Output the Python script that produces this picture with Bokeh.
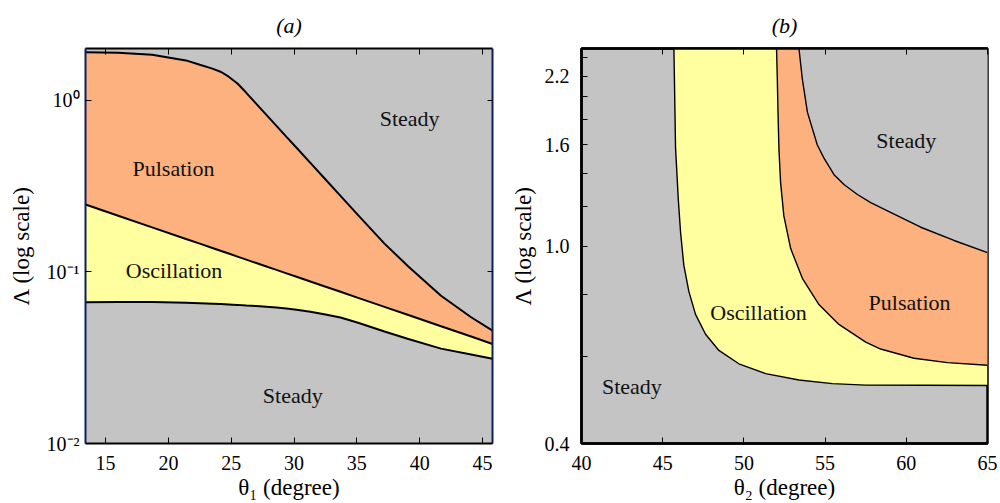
from bokeh.plotting import figure
from bokeh.layouts import row
from bokeh.models import (FixedTicker, LinearAxis, LogAxis, Range1d, Label,
                          PrintfTickFormatter)
from bokeh.embed import file_html
from bokeh.resources import INLINE

FONT = "'Liberation Serif', serif"
GRAY = "#c4c4c4"
ORANGE = "#fdb17f"
YELLOW = "#ffffa0"
NAVY = "#0b1f5c"

# ---------------- Panel (a) data ----------------
theta1 = [13.4, 16.0, 18.7, 21.4, 22.5, 23.5, 24.2, 24.8, 25.5, 26.2,
          27.0, 27.8, 28.6, 29.4, 30.2, 31.3, 32.4, 33.7, 35.1, 37.2,
          39.1, 41.7, 44.1, 45.8]
a_pulsation_top = [1.905, 1.889, 1.840, 1.705, 1.607, 1.527, 1.459, 1.370, 1.250, 1.104,
                   0.951, 0.821, 0.709, 0.611, 0.528, 0.431, 0.352, 0.277, 0.214, 0.146,
                   0.1075, 0.0726, 0.0544, 0.0455]
a_oscillation_top = [0.2466, 0.2123, 0.1816, 0.1554, 0.1459, 0.1377, 0.1322, 0.1278, 0.1227, 0.1178,
                     0.1125, 0.1075, 0.1026, 0.0980, 0.0936, 0.0878, 0.0824, 0.0765, 0.0705, 0.0625,
                     0.0560, 0.0482, 0.0420, 0.0380]
a_oscillation_low = [0.0665, 0.0667, 0.0667, 0.0660, 0.0656, 0.0652, 0.0649, 0.0646, 0.0642, 0.0637,
                     0.0632, 0.0626, 0.0619, 0.0611, 0.0601, 0.0585, 0.0566, 0.0542, 0.0505, 0.0449,
                     0.0406, 0.0357, 0.0330, 0.0312]
a_xticks = [15, 20, 25, 30, 35, 40, 45]
a_yticks = [0.01, 0.1, 1.0]
a_ylabels = {0.01: "10\u207b\u00b2", 0.1: "10\u207b\u00b9", 1.0: "10\u2070"}
a_regions = ["Steady", "Pulsation", "Oscillation", "Steady"]
a_region_x = [39.2, 20.4, 20.45, 29.9]
a_region_y = [0.784, 0.402, 0.1014, 0.0191]

# ---------------- Panel (b) data ----------------
b_osc_theta = [45.69, 45.74, 45.79, 45.96, 46.10, 46.30, 46.61, 47.02, 47.64, 48.46,
               49.69, 51.34, 53.39, 55.45, 57.5, 61.0, 65.0]
b_osc_lam = [2.5, 2.0, 1.58, 1.242, 1.066, 0.915, 0.810, 0.728, 0.664, 0.616,
             0.579, 0.553, 0.537, 0.528, 0.5245, 0.524, 0.5235]
b_pul_theta = [52.01, 52.06, 52.10, 52.16, 52.26, 52.46, 52.88, 53.60, 54.62, 55.85,
               57.5, 58.42, 60.47, 62.53, 65.0]
b_pul_lam = [2.5, 2.15, 1.86, 1.56, 1.34, 1.15, 0.988, 0.861, 0.762, 0.695,
             0.640, 0.620, 0.594, 0.582, 0.575]
b_std_theta = [53.39, 53.60, 53.91, 54.52, 54.93, 55.55, 56.16, 56.99, 57.81, 58.84,
               60.89, 62.94, 65.0]
b_std_lam = [2.5, 2.168, 1.861, 1.598, 1.503, 1.392, 1.330, 1.270, 1.223, 1.177,
             1.091, 1.026, 0.970]
b_xticks = [40, 45, 50, 55, 60, 65]
b_yticks = [0.4, 1.0, 1.6, 2.2]
b_yminor = [0.6, 0.8, 1.2, 1.4, 1.8, 2.0, 2.4]
b_regions = ["Steady", "Pulsation", "Oscillation", "Steady"]
b_region_x = [60.0, 60.2, 50.9, 43.1]
b_region_y = [1.634, 0.768, 0.734, 0.520]

XA = (13.4, 45.8)
YA = (0.01, 2.0)
XB = (40.0, 65.0)
YB = (0.4, 2.5)


def style_axis(ax, size="20px"):
    ax.major_tick_in = 6
    ax.major_tick_out = 0
    ax.minor_tick_in = 0
    ax.minor_tick_out = 0
    ax.major_label_text_font = FONT
    ax.major_label_text_font_size = size
    ax.major_label_text_color = "black"
    ax.axis_label_text_font = FONT
    ax.axis_label_text_font_size = "23px"
    ax.axis_label_text_font_style = "normal"
    ax.axis_label_text_color = "black"


def blank_axis(cls, ticks, color, width, tick_len):
    ax = cls(ticker=FixedTicker(ticks=ticks, minor_ticks=[]),
             major_label_overrides={t: "" for t in ticks},
             major_tick_in=tick_len, major_tick_out=0, minor_tick_in=0, minor_tick_out=0,
             major_label_standoff=0, axis_line_width=width, axis_line_color=color)
    return ax


def make_fig(title, xr, yr, w, bl, br):
    p = figure(width=w, height=502, x_range=Range1d(*xr), y_range=Range1d(*yr),
               y_axis_type="log", output_backend="svg", toolbar_location=None,
               min_border_left=bl, min_border_right=br, min_border_top=48,
               min_border_bottom=57, background_fill_color=GRAY,
               border_fill_color="white")
    p.grid.visible = False
    p.title.text = title
    p.title.align = "center"
    p.title.text_font = FONT
    p.title.text_font_size = "22px"
    p.title.text_font_style = "italic"
    p.title.text_color = "black"
    p.title.standoff = 21
    return p


# ---------------- Panel (a) ----------------
pa = make_fig("(a)", XA, YA, 500, 85, 8)
pa.varea(x=theta1, y1=a_oscillation_top, y2=a_pulsation_top, fill_color=ORANGE)
pa.varea(x=theta1, y1=a_oscillation_low, y2=a_oscillation_top, fill_color=YELLOW)
for ys in (a_pulsation_top, a_oscillation_top, a_oscillation_low):
    pa.line(theta1, ys, line_color="black", line_width=2)

pa.outline_line_color = None
pa.xaxis.ticker = FixedTicker(ticks=a_xticks, minor_ticks=[])
pa.yaxis.ticker = FixedTicker(ticks=a_yticks, minor_ticks=[])
pa.yaxis.major_label_overrides = a_ylabels
pa.xaxis.axis_label = "\u03b8\u2081 (degree)"
pa.yaxis.axis_label = "\u039b (log scale)"
style_axis(pa.xaxis[0])
style_axis(pa.yaxis[0])
pa.xaxis.major_label_standoff = 12
pa.xaxis.axis_label_standoff = 2
pa.yaxis.major_label_standoff = 6
pa.yaxis.axis_label_standoff = 10
pa.xaxis.axis_line_width = 2
pa.yaxis.axis_line_width = 2
pa.yaxis.axis_line_color = NAVY

pa.add_layout(blank_axis(LinearAxis, a_xticks, "black", 2, 6), "above")
pa.add_layout(blank_axis(LogAxis, a_yticks, NAVY, 2, 5), "right")

for t, x, y in zip(a_regions, a_region_x, a_region_y):
    pa.add_layout(Label(x=x, y=y, text=t, text_align="center", text_baseline="middle",
                        text_font=FONT, text_font_size="22px", text_color="#111111"))

# ---------------- Panel (b) ----------------
pb = make_fig("(b)", XB, YB, 499, 81, 12)
pb.patch(b_osc_theta + [XB[1]], b_osc_lam + [YB[1]], fill_color=YELLOW, line_color=None)
pb.patch(b_pul_theta + [XB[1]], b_pul_lam + [YB[1]], fill_color=ORANGE, line_color=None)
pb.patch(b_std_theta + [XB[1]], b_std_lam + [YB[1]], fill_color=GRAY, line_color=None)
for xs, ys in ((b_osc_theta, b_osc_lam), (b_pul_theta, b_pul_lam), (b_std_theta, b_std_lam)):
    pb.line(xs, ys, line_color="black", line_width=1.4)

pb.outline_line_color = "black"
pb.outline_line_width = 2.5
pb.xaxis.ticker = FixedTicker(ticks=b_xticks, minor_ticks=[])
pb.yaxis.ticker = FixedTicker(ticks=b_yticks, minor_ticks=b_yminor)
pb.yaxis.formatter = PrintfTickFormatter(format="%.1f")
pb.xaxis.axis_label = "\u03b8\u2082 (degree)"
pb.yaxis.axis_label = "\u039b (log scale)"
style_axis(pb.xaxis[0])
style_axis(pb.yaxis[0])
pb.yaxis.minor_tick_in = 6
pb.xaxis.major_label_standoff = 12
pb.xaxis.axis_label_standoff = 2
pb.yaxis.major_label_standoff = 12
pb.yaxis.axis_label_standoff = 6
pb.xaxis.axis_line_width = 2.5
pb.yaxis.axis_line_width = 2.5

pb.add_layout(blank_axis(LinearAxis, b_xticks, "black", 2.5, 6), "above")

for t, x, y in zip(b_regions, b_region_x, b_region_y):
    pb.add_layout(Label(x=x, y=y, text=t, text_align="center", text_baseline="middle",
                        text_font=FONT, text_font_size="22px", text_color="#111111"))

layout = row(pa, pb)
open("out.html", "w").write(file_html(layout, INLINE))
